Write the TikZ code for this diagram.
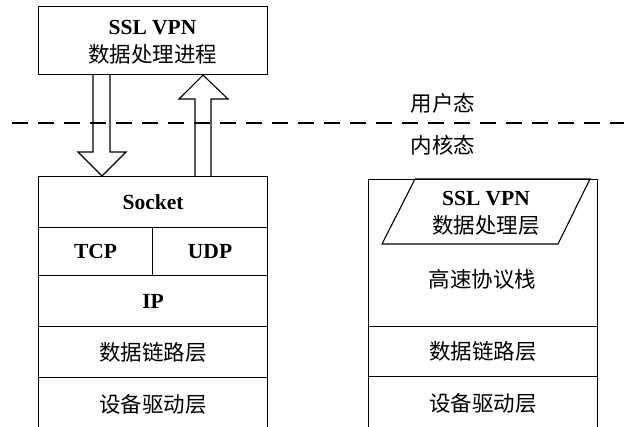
\documentclass[tikz,border=0pt]{standalone}
\usepackage{fontspec}
\setmainfont{Liberation Serif}
\newfontfamily\cjk{Noto Sans CJK SC}
\begin{document}
\begin{tikzpicture}[x=1pt,y=-1pt,
  lbl/.style={font=\fontsize{21.5}{28}\selectfont, inner sep=0pt, align=center},
  cell/.style={draw, line width=1.1pt, inner sep=0pt, anchor=north west, lbl},
  blockarrow/.style={draw, line width=1.1pt},
  sep/.style={line width=2pt, dash pattern=on 16pt off 10pt}]
\useasboundingbox (0,0) rectangle (624,426);
\clip (0,0) rectangle (624,426);
% user process
\node[cell, minimum width=229pt, minimum height=68pt] (proc) at (38,6) {};
\node[lbl] (proctext) at (152.5,42.5) {\textbf{SSL VPN}\\{\cjk 数据处理进程}};
% left stack
\node[cell, minimum width=229pt, minimum height=51pt] (sock) at (38,176) {\textbf{Socket}};
\node[cell, minimum width=114pt, minimum height=48pt] (tcp) at (38,227) {\textbf{TCP}};
\node[cell, minimum width=115pt, minimum height=48pt] (udp) at (152,227) {\textbf{UDP}};
\node[cell, minimum width=229pt, minimum height=51pt] (ip) at (38,275) {\textbf{IP}};
\node[cell, minimum width=229pt, minimum height=51pt] (dllL) at (38,326) {\cjk 数据链路层};
\node[cell, minimum width=229pt, minimum height=60pt, text depth=9pt] (drvL) at (38,377) {\cjk 设备驱动层};
% right stack
\node[cell, minimum width=229pt, minimum height=147pt] (fastbox) at (368,179) {};
\draw[line width=1.1pt] (fastbox.north west -| 415,0) -- (fastbox.north west -| 590,0) -- (558,244) -- (382,244) -- cycle;
\node[lbl] (sslL) at (486,213.5) {\textbf{SSL VPN}\\{\cjk 数据处理层}};
\node[lbl] (fast) at (482.5,279) {\cjk 高速协议栈};
\node[cell, minimum width=229pt, minimum height=50pt] (dllR) at (368,326) {\cjk 数据链路层};
\node[cell, minimum width=229pt, minimum height=60pt, text depth=9pt] (drvR) at (368,376) {\cjk 设备驱动层};
% block arrows
\draw[blockarrow] (proc.south -| 93,0) -- (93,152) -- (78,152) -- (sock.north -| 102,0) -- (126,152) -- (110,152) -- (proc.south -| 110,0);
\draw[blockarrow] (sock.north -| 195,0) -- (195,99) -- (179,99) -- (proc.south -| 203,0) -- (228,99) -- (211,99) -- (sock.north -| 211,0);
% separator
\coordinate (sepL) at (12,123);
\coordinate (sepR) at (624,123);
\draw[sep] (sepL) -- (sepR);
\node[lbl] (user) at (443,103) {\cjk 用户态};
\node[lbl] (kern) at (443,145) {\cjk 内核态};
\end{tikzpicture}
\end{document}
